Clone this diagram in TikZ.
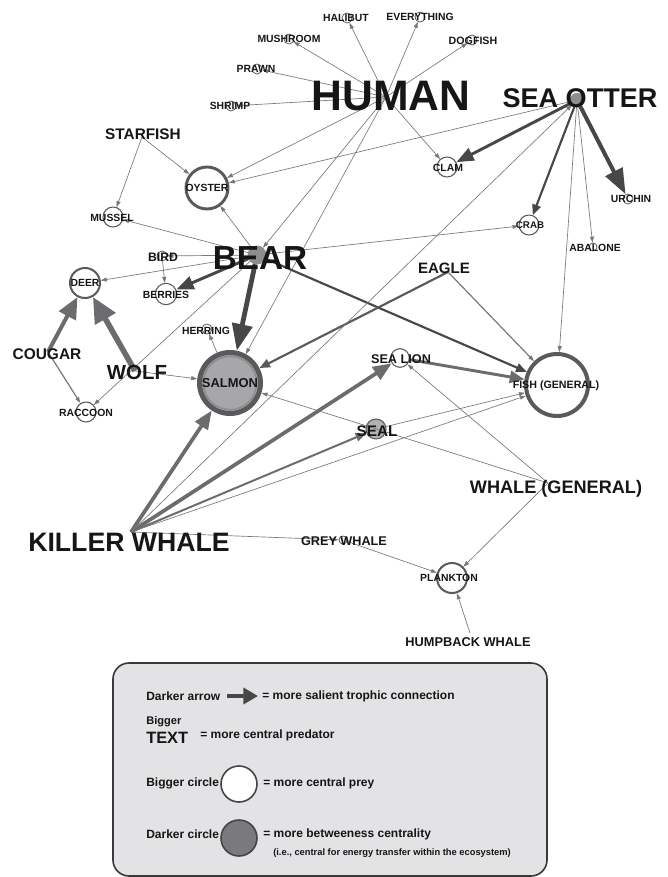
\documentclass[tikz,border=0pt]{standalone}
\usepackage{fontspec}
\setmainfont{Liberation Sans}
\usepackage{tikz}
\usetikzlibrary{arrows.meta}
\usetikzlibrary{positioning}
\definecolor{inkblack}{HTML}{161616}
\definecolor{thingray}{HTML}{787878}
\definecolor{darkedge}{HTML}{474747}
\definecolor{softedge}{HTML}{6C6C6E}
\definecolor{ringgray}{HTML}{5A5A5A}
\definecolor{salmonfill}{HTML}{A7A7AB}
\definecolor{salmonring}{HTML}{8C8C90}
\definecolor{sealfill}{HTML}{B3B3B3}
\definecolor{dotgray}{HTML}{8E8E8E}
\definecolor{legendfill}{HTML}{E3E3E5}
\definecolor{legendcircle}{HTML}{7A7A7C}
\newcommand{\fsz}[1]{\fontsize{#1}{#1}\selectfont\bfseries}

\begin{document}
\begin{tikzpicture}[x=0.75pt, y=-0.75pt,
prey/.style = {circle, draw=ringgray, fill=white, line width=0.6pt, inner sep=0pt, minimum size=#1},
prey/.default = 7.5pt,
tag/.style = {inner sep=0pt, text=inkblack, font=\fsz{#1}},
tag/.default = 7.8,
link/.style = {draw=thingray, line width=0.5pt, -{Triangle[length=4.5pt,width=3pt]}},
midlink/.style = {draw=darkedge, line width=1.6pt, -{Triangle[length=8pt,width=6.5pt]}},
boldlink/.style = {draw=darkedge, line width=2.2pt, -{Triangle[length=13pt,width=10pt]}},
heavylink/.style = {draw=darkedge, line width=3.2pt, -{Triangle[length=19pt,width=14pt]}},
softmid/.style = {draw=softedge, line width=1.5pt, -{Triangle[length=8pt,width=6.5pt]}},
softbold/.style = {draw=softedge, line width=2.2pt, -{Triangle[length=11pt,width=9pt]}},
softheavy/.style = {draw=softedge, line width=2.8pt, -{Triangle[length=14pt,width=11pt]}}
]
\useasboundingbox (0,0) rectangle (667,877);

% predators
\coordinate (human) at (386,97);
\coordinate (starfish) at (142,137);
\coordinate (cougar) at (48,352);
\coordinate (wolf) at (135,371);
\coordinate (eagle) at (448,272);
\coordinate (whalegen) at (548,483);
\coordinate (killerwhale) at (131,532);
\coordinate (humpback) at (470,633);

% prey circles
\node (seaotter)[prey=10pt, fill=dotgray, draw=dotgray] at (577,100) {};
\node (bear)[prey=13.5pt, fill=dotgray, draw=dotgray] at (257,255) {};
\node (halibut)[prey] at (347,18) {};
\node (everything)[prey] at (420,17) {};
\node (dogfish)[prey] at (472,40) {};
\node (mushroom)[prey] at (289,39) {};
\node (prawn)[prey] at (257,69) {};
\node (shrimp)[prey] at (231,106) {};
\node (clam)[prey=15pt, line width=0.8pt] at (447,167) {};
\node (urchin)[prey] at (628,199) {};
\node (crab)[prey=15pt, line width=0.8pt] at (529,225) {};
\node (abalone)[prey=6pt] at (593,247) {};
\node (oyster)[prey=31.5pt, line width=2.2pt] at (207,188) {};
\node (mussel)[prey=15pt, line width=0.8pt] at (113,217) {};
\node (bird)[prey] at (162,256) {};
\node (berries)[prey=16pt, line width=0.8pt] at (166,294) {};
\node (deer)[prey=22.5pt, line width=1.5pt] at (85,283) {};
\node (raccoon)[prey=15pt, line width=0.8pt] at (86,412) {};
\node (herring)[prey] at (207,329) {};
\node (salmon)[prey=45.75pt, fill=salmonfill, line width=3.75pt] at (230,383) {};
\node (salmonrim)[circle, draw=salmonring, line width=1.1pt, inner sep=0pt, minimum size=40pt] at (salmon) {};
\node (sealion)[prey=14pt, line width=0.8pt] at (400,358) {};
\node (seal)[prey=15pt, fill=sealfill, line width=0.8pt] at (376,429) {};
\node (fish)[prey=46.5pt, line width=3pt] at (557,385) {};
\node (greywhale)[prey=6pt] at (343,540) {};
\node (plankton)[prey=22.5pt, line width=1.5pt] at (452,578) {};

% links
\draw[link] (human) -- (halibut);
\draw[link] (human) -- (everything);
\draw[link] (human) -- (dogfish);
\draw[link] (human) -- (mushroom);
\draw[link] (human) -- (prawn);
\draw[link] (human) -- (shrimp);
\draw[link] (human) -- (clam);
\draw[link] (human) -- (oyster);
\draw[link] (human) -- (bear);
\draw[link] (human) -- (salmon);

\draw[heavylink, line width=3pt] (seaotter) -- (urchin);
\draw[boldlink] (seaotter) -- (clam);
\draw[midlink] (seaotter) -- (crab);
\draw[link] (seaotter) -- (abalone);
\draw[link] (seaotter) -- (fish);
\draw[link] (seaotter) -- (oyster);

\draw[link] (starfish) -- (oyster);
\draw[link] (starfish) -- (mussel);

\draw[heavylink, line width=3.6pt, -{Triangle[length=20pt,width=15pt]}] (bear) -- (salmon);
\draw[boldlink] (bear) -- (berries);
\draw[midlink] (bear) -- (fish);
\draw[link] (bear) -- (mussel);
\draw[link] (bear) -- (oyster);
\draw[link] (bear) -- (bird);
\draw[link] (bear) -- (deer);
\draw[link] (bear) -- (raccoon);
\draw[link] (bear) -- (crab);
\draw[link] (bird) -- (berries);

\draw[softheavy, line width=3pt, -{Triangle[length=16pt,width=14pt]}] (cougar) -- (deer);
\draw[link, line width=0.9pt] (cougar) -- (raccoon);
\draw[softheavy, line width=4.2pt, -{Triangle[length=19pt,width=17pt]}] (wolf) -- (deer);
\draw[link] (wolf) -- (salmon);
\draw[link] (salmon) -- (herring);

\draw[midlink, draw=ringgray] (eagle) -- (salmon);
\draw[link, line width=0.9pt] (eagle) -- (fish);
\draw[softbold] (sealion) -- (fish);
\draw[link] (seal) -- (fish);

\draw[link] (whalegen) -- (salmon);
\draw[link] (whalegen) -- (sealion);
\draw[link] (whalegen) -- (plankton);

\draw[softheavy] (killerwhale) -- (salmon);
\draw[softheavy] (killerwhale) -- (sealion);
\draw[softmid] (killerwhale) -- (seal);
\draw[link] (killerwhale) -- (fish);
\draw[link] (killerwhale) -- (seaotter);
\draw[link] (killerwhale) -- (greywhale);
\draw[link] (greywhale) -- (plankton);
\draw[link] (humpback) -- (plankton);

% labels
\node (humantext)[tag=32] at (391,96) {HUMAN};
\node (seaottertext)[tag=20.3] at (580,98) {SEA OTTER};
\node (beartext)[tag=25] at (260,258) {BEAR};
\node (killerwhaletext)[tag=20] at (129,542) {KILLER WHALE};
\node (whalegentext)[tag=13.6] at (556,489) {WHALE (GENERAL)};
\node (wolftext)[tag=15.3] at (137,372) {WOLF};
\node (cougartext)[tag=11.6] at (47,354) {COUGAR};
\node (starfishtext)[tag=11.5] at (143,134) {STARFISH};
\node (eagletext)[tag=11.3] at (444,268) {EAGLE};
\node (sealtext)[tag=11.5] at (377,431) {SEAL};
\node (humpbacktext)[tag=9.6] at (468,642) {HUMPBACK WHALE};
\node (greywhaletext)[tag=9.5] at (344,541) {GREY WHALE};
\node (sealiontext)[tag=9.5] at (401,359) {SEA LION};
\node (salmontext)[tag=9.7] at (salmon) {SALMON};
\node (birdtext)[tag=9.2] at (163,257) {BIRD};
\node (fishtext)[tag=8] at (556,386) {FISH (GENERAL)};
\node (oystertext)[tag] at (oyster) {OYSTER};
\node (musseltext)[tag] at (112,218) {MUSSEL};
\node (berriestext)[tag] at (166,295) {BERRIES};
\node (deertext)[tag] at (deer) {DEER};
\node (herringtext)[tag] at (206,331) {HERRING};
\node (raccoontext)[tag] at (86,413) {RACCOON};
\node (clamtext)[tag] at (448,168) {CLAM};
\node (urchintext)[tag] at (631,199) {URCHIN};
\node (crabtext)[tag=7.3] at (530,225) {CRAB};
\node (abalonetext)[tag] at (595,248) {ABALONE};
\node (planktontext)[tag] at (449,578) {PLANKTON};
\node (halibuttext)[tag] at (346,18) {HALIBUT};
\node (everythingtext)[tag] at (420,17) {EVERYTHING};
\node (mushroomtext)[tag] at (289,39) {MUSHROOM};
\node (prawntext)[tag] at (256,69) {PRAWN};
\node (shrimptext)[tag] at (230,106) {SHRIMP};
\node (dogfishtext)[tag=8] at (473,41) {DOGFISH};

% legend
\draw[fill=legendfill, draw=inkblack!85, line width=1.2pt, rounded corners=12pt] (113,663) rectangle (547,876);
\node (legarrow)[tag=9, anchor=west] at (146,696) {Darker arrow};
\coordinate (arrowtail) at (227,696);
\coordinate (arrowtip) at (258,696);
\draw[heavylink, line width=3pt, -{Triangle[length=11pt,width=12pt]}] (arrowtail) -- (arrowtip);
\node (legsalient)[tag=9, anchor=west] at (262,696) {= more salient trophic connection};
\node (legbigger)[tag=8.3, anchor=west] at (146,722) {Bigger};
\node (legtext)[tag=12.3, anchor=west] at (146,738) {TEXT};
\node (legpredator)[tag=9, anchor=west] at (200,735) {= more central predator};
\node (legcircle)[tag=9, anchor=west] at (146,783) {Bigger circle};
\node (legwhite)[prey=27pt, draw=inkblack!80, line width=1.2pt] at (239,784) {};
\node (legprey)[tag=9, anchor=west] at (263,783) {= more central prey};
\node (legdarker)[tag=9, anchor=west] at (146,834) {Darker circle};
\node (leggray)[prey=27pt, fill=legendcircle, draw=inkblack!80, line width=1.2pt] at (239,838) {};
\node (legbetween)[tag=9, anchor=west] at (263,834) {= more betweeness centrality};
\node (legnote)[tag=7, anchor=west] at (273,853) {(i.e., central for energy transfer within the ecosystem)};

\end{tikzpicture}
\end{document}
